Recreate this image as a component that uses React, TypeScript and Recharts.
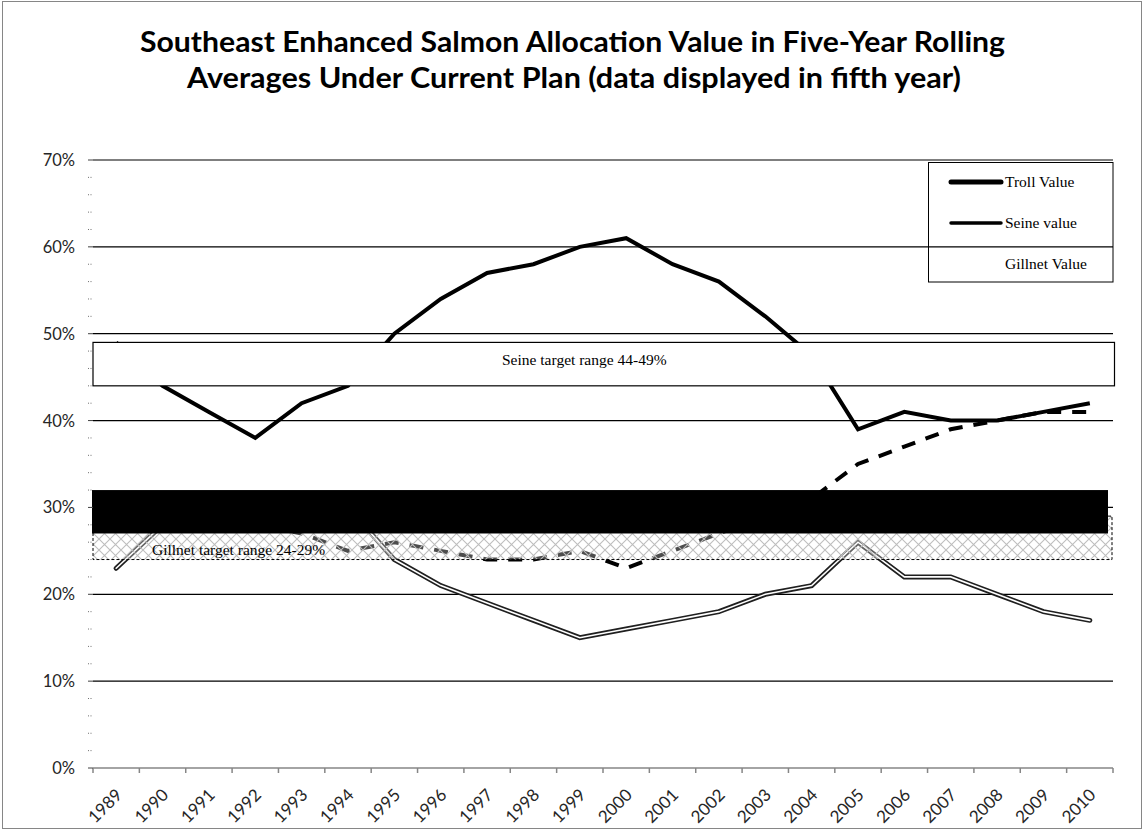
import React from 'react';
import { LineChart, Line, XAxis, YAxis, CartesianGrid, ReferenceArea } from 'recharts';

// Five-year rolling averages, percent of enhanced salmon value, shown in the fifth year
const years = ['1989', '1990', '1991', '1992', '1993', '1994', '1995', '1996', '1997', '1998', '1999',
  '2000', '2001', '2002', '2003', '2004', '2005', '2006', '2007', '2008', '2009', '2010'];
const seineValue = [49, 44, 41, 38, 42, 44, 50, 54, 57, 58, 60, 61, 58, 56, 52, 47.5, 39, 41, 40, 40, 41, 42];
const gillnetValue = [30, 30, 29, 28, 27, 25, 26, 25, 24, 24, 25, 23, 25, 27, 29, 31, 35, 37, 39, 40, 41, 41];
const trollValue = [23, 28, 29, 30, 30, 30, 24, 21, 19, 17, 15, 16, 17, 18, 20, 21, 26, 22, 22, 20, 18, 17];

// Allocation target bands (percent)
const seineTarget = [44, 49];
const trollTarget = [27, 32];
const gillnetTarget = [24, 29];
const seineTargetLabel = 'Seine target range 44-49%';
const gillnetTargetLabel = 'Gillnet target range 24-29%';

// Axis ticks: labelled every 10%, minor marks every 2%
const yTicks = Array.from({ length: 36 }, (_, i) => i * 2);
const gridValues = [10, 20, 30, 40, 50, 60, 70];

const titleLines = [
  'Southeast Enhanced Salmon Allocation Value in Five-Year Rolling',
  'Averages Under Current Plan (data displayed in fifth year)',
];
const legendItems = [
  { label: 'Troll Value', lineWidth: 5 },
  { label: 'Seine value', lineWidth: 3.5 },
  { label: 'Gillnet Value', lineWidth: 0 },
];

const data = years.map((year, i) => ({
  year,
  seine: seineValue[i],
  gillnet: gillnetValue[i],
  troll: trollValue[i],
}));

const W = 1144;
const H = 831;
const MARGIN = { top: 160, right: 31, bottom: 0, left: 0 };
const Y_AXIS_W = 93;
const X_AXIS_H = 63;
const PLOT_W = W - Y_AXIS_W - MARGIN.right;
const BAND = PLOT_W / years.length;
const HALF = BAND / 2;

const sans = 'Lato, "Open Sans", sans-serif';
const serif = '"Liberation Serif", "Times New Roman", serif';

const YTick = (props: any) => {
  const { x, y, payload } = props;
  const v = payload.value as number;
  const major = v % 10 === 0;
  return (
    <g>
      {major ? (
        <line x1={x - 5} x2={x} y1={y} y2={y} stroke="#404040" strokeWidth={1} />
      ) : (
        <line x1={x - 5} x2={x - 1} y1={y} y2={y} stroke="#6f6f6f" strokeWidth={1} strokeDasharray="1 1.5" />
      )}
      {major && (
        <text x={x - 18} y={y} dy="0.36em" textAnchor="end" fontFamily={sans} fontSize={16.5} fill="#262626">
          {v}%
        </text>
      )}
    </g>
  );
};

const XTick = (props: any) => {
  const { x, y, payload, index } = props;
  const lx = x + 7;
  const ly = y + 28;
  return (
    <g>
      <line x1={x - HALF} x2={x - HALF} y1={y} y2={y + 5} stroke="#868686" strokeWidth={1.5} />
      {index === years.length - 1 && (
        <line x1={x + HALF} x2={x + HALF} y1={y} y2={y + 5} stroke="#868686" strokeWidth={1.5} />
      )}
      <text x={lx} y={ly} transform={`rotate(-45 ${lx} ${ly})`} textAnchor="end" fontFamily={sans} fontSize={17} fill="#262626">
        {payload.value}
      </text>
    </g>
  );
};

// Target bands span the full category width, so widen by half a band each side
const HatchBox = (props: any) => {
  const { x, y, width, height } = props;
  const x0 = x - HALF;
  return (
    <g>
      <defs>
        <pattern id="crosshatch" patternUnits="userSpaceOnUse" width={11} height={11}>
          <rect x={0} y={0} width={11} height={11} fill="#fff" fillOpacity={0.3} />
          <path d="M0,0 L11,11 M11,0 L0,11" stroke="#bdbdbd" strokeWidth={1.1} />
        </pattern>
      </defs>
      <rect x={x0} y={y} width={width + BAND - 1} height={height} fill="url(#crosshatch)" stroke="#000" strokeWidth={1} strokeDasharray="3 2" />
      <text x={x0 + 59} y={y + height - 4.5} fontFamily={serif} fontSize={15.5} fill="#000">
        {gillnetTargetLabel}
      </text>
    </g>
  );
};

const BlackBox = (props: any) => {
  const { x, y, width, height } = props;
  return <rect x={x - HALF - 1} y={y} width={width + BAND - 4} height={height} fill="#000" />;
};

const SeineBox = (props: any) => {
  const { x, y, width, height } = props;
  const x0 = x - HALF;
  return (
    <g>
      <rect x={x0} y={y} width={width + BAND + 1.5} height={height} fill="#fff" stroke="#000" strokeWidth={1.2} />
      <text x={x0 + 409} y={y + 22.5} fontFamily={serif} fontSize={15.5} fill="#000">
        {seineTargetLabel}
      </text>
    </g>
  );
};

export default function App() {
  return (
    <div style={{ position: 'absolute', left: 0, top: 0, width: W, height: H, background: '#fff', fontFamily: sans }}>
      <LineChart width={W} height={H} data={data} margin={MARGIN}>
        <CartesianGrid horizontal vertical={false} horizontalValues={gridValues} stroke="#000" strokeWidth={1.2} />
        <XAxis
          dataKey="year"
          height={X_AXIS_H}
          interval={0}
          padding={{ left: HALF, right: HALF }}
          tickSize={0}
          tickMargin={0}
          tickLine={false}
          axisLine={{ stroke: '#868686', strokeWidth: 1.5 }}
          tick={<XTick />}
        />
        <YAxis
          type="number"
          domain={[0, 70]}
          ticks={yTicks}
          interval={0}
          width={Y_AXIS_W}
          tickSize={0}
          tickMargin={0}
          axisLine={false}
          tickLine={false}
          tick={<YTick />}
        />
        <Line dataKey="seine" type="linear" stroke="#000" strokeWidth={4} dot={false} activeDot={false} isAnimationActive={false} />
        <Line dataKey="gillnet" type="linear" stroke="#000" strokeWidth={4} strokeDasharray="14 11" dot={false} activeDot={false} isAnimationActive={false} />
        <Line dataKey="troll" type="linear" stroke="#1f1f1f" strokeWidth={5} strokeLinecap="round" dot={false} activeDot={false} isAnimationActive={false} />
        <Line dataKey="troll" type="linear" stroke="#fff" strokeWidth={1.6} strokeLinecap="round" dot={false} activeDot={false} isAnimationActive={false} />
        <ReferenceArea y1={gillnetTarget[0]} y2={gillnetTarget[1]} ifOverflow="visible" zIndex={410} shape={HatchBox} />
        <ReferenceArea y1={trollTarget[0]} y2={trollTarget[1]} ifOverflow="visible" zIndex={420} shape={BlackBox} />
        <ReferenceArea y1={seineTarget[0]} y2={seineTarget[1]} ifOverflow="visible" zIndex={430} shape={SeineBox} />
      </LineChart>
      <svg width={W} height={H} style={{ position: 'absolute', left: 0, top: 0, pointerEvents: 'none' }}>
        <rect x={2.5} y={1.5} width={1139} height={827} fill="none" stroke="#868686" strokeWidth={1} />
        <text x={140} y={52} fontFamily={sans} fontWeight={700} fontSize={28} textLength={865} lengthAdjust="spacingAndGlyphs" fill="#000">
          {titleLines[0]}
        </text>
        <text x={187} y={88} fontFamily={sans} fontWeight={700} fontSize={28} textLength={774} lengthAdjust="spacingAndGlyphs" fill="#000">
          {titleLines[1]}
        </text>
        <rect x={928.5} y={162.5} width={184.5} height={119.5} fill="none" stroke="#000" strokeWidth={1} />
        {legendItems.map((item, i) => {
          const cy = 182 + i * 41;
          return (
            <g key={item.label}>
              {item.lineWidth > 0 && (
                <line x1={951} x2={1001} y1={cy} y2={cy} stroke="#000" strokeWidth={item.lineWidth} strokeLinecap="round" />
              )}
              <text x={1005} y={cy + 5} fontFamily={serif} fontSize={15.5} fill="#000">
                {item.label}
              </text>
            </g>
          );
        })}
      </svg>
    </div>
  );
}
